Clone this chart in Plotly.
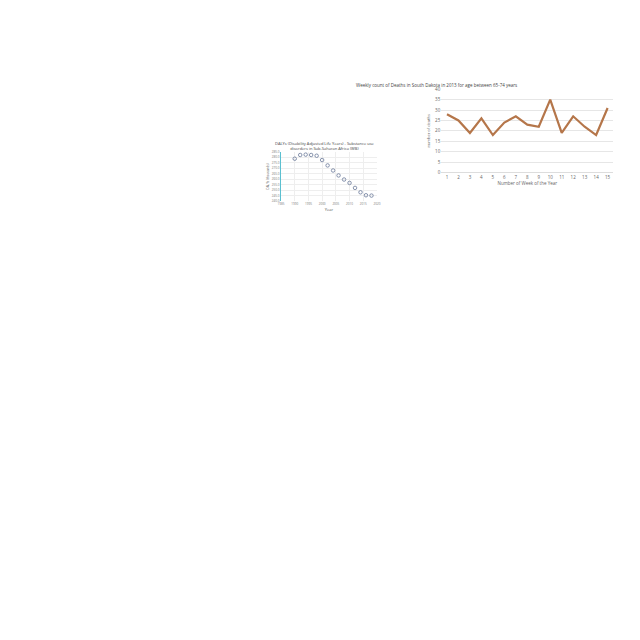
import plotly.graph_objects as go

# left chart: DALYs
years = [1990, 1992, 1994, 1996, 1998, 2000, 2002, 2004, 2006, 2008, 2010, 2012, 2014, 2016, 2018]
dalys = [278.6, 282.0, 282.3, 282.0, 281.3, 277.4, 272.5, 267.9, 263.4, 259.7, 256.6, 252.1, 248.1, 245.4, 245.1]

# right chart: weekly deaths
weeks = list(range(1, 16))
deaths = [28, 25, 19, 26, 18, 24, 27, 23, 22, 35, 19, 27, 22, 18, 31]

W = 640.0
OFF = 8  # page body margin
def dx(a, b):
    return [(a - OFF) / W, (b - OFF) / W]
def dy(top, bot):
    return [1 - (bot - OFF) / W, 1 - (top - OFF) / W]

fig = go.Figure()
fig.add_trace(go.Scatter(x=years, y=dalys, mode="markers", xaxis="x", yaxis="y",
                         marker=dict(size=3.5, color="rgba(0,0,0,0)",
                                     line=dict(color="#6b7a99", width=0.8))))
fig.add_trace(go.Scatter(x=weeks, y=deaths, mode="lines", xaxis="x2", yaxis="y2",
                         line=dict(color="#b5764a", width=2.2)))

small = dict(size=3, color="#777")
fig.update_layout(
    width=640, height=640, margin=dict(l=0, r=0, t=0, b=0),
    paper_bgcolor="white", plot_bgcolor="white", showlegend=False,
    font=dict(family="Open Sans"),
    xaxis=dict(domain=dx(281, 378), range=[1985, 2020], tickvals=[1985, 1990, 1995, 2000, 2005, 2010, 2015, 2020],
               tickfont=small, showgrid=True, gridcolor="#eee", zeroline=False,
               title=dict(text="Year", font=dict(size=4, color="#555"), standoff=2), anchor="y"),
    yaxis=dict(domain=dy(150, 200), range=[240, 285], dtick=5, tickformat=".1f",
               tickfont=small, showgrid=True, gridcolor="#eee", zeroline=False,
               showline=True, linecolor="#5bc0d0", linewidth=0.8,
               title=dict(text="DALYs (thousands)", font=dict(size=3, color="#555"), standoff=2), anchor="x"),
    xaxis2=dict(domain=dx(443, 617), range=[0.5, 15.5], dtick=1, tickfont=dict(size=4.5, color="#666"),
                showgrid=False, zeroline=False, showline=True, linecolor="#ddd",
                title=dict(text="Number of Week of the Year", font=dict(size=4.5, color="#666"), standoff=2),
                anchor="y2"),
    yaxis2=dict(domain=dy(87, 171), range=[0, 40], dtick=5, tickfont=dict(size=4.5, color="#666"),
                showgrid=True, gridcolor="#e6e6e6", zeroline=False,
                title=dict(text="number of deaths", font=dict(size=4, color="#666"), standoff=4),
                anchor="x2"),
    annotations=[
        dict(text="DALYs (Disability Adjusted Life Years) - Substance use<br>disorders in Sub-Saharan Africa (WB)",
             x=(325 - OFF) / W, y=1 - (137 - OFF) / W, xref="paper", yref="paper", showarrow=False,
             font=dict(size=4, color="#444"), yanchor="top"),
        dict(text="Weekly count of Deaths in South Dakota in 2013 for age between 65-74 years",
             x=(522 - OFF) / W, y=1 - (78 - OFF) / W, xref="paper", yref="paper", showarrow=False,
             font=dict(size=4.5, color="#444")),
    ],
)
fig.write_html("out.html")
